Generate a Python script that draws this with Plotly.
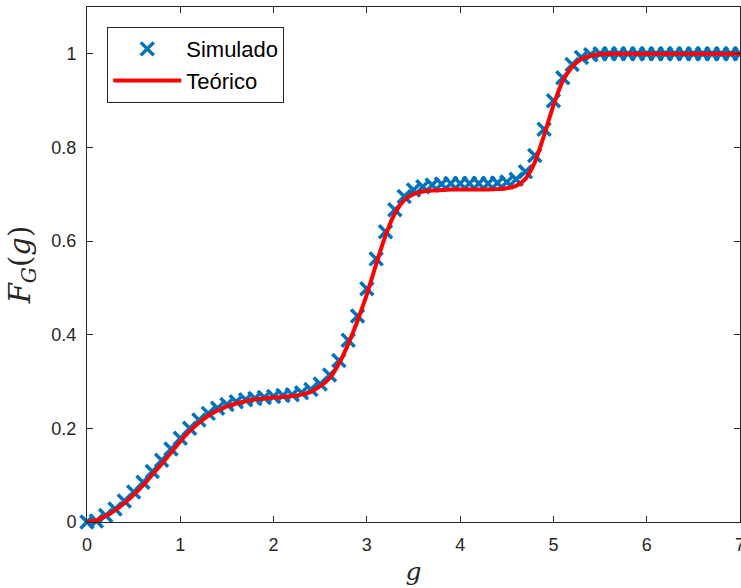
import plotly.graph_objects as go

# x grid (g) for both series
g_vals = [round(0.1 * i, 1) for i in range(71)]

# Simulated CDF values
sim_vals = [
    0.000, 0.002, 0.014, 0.028, 0.045, 0.064, 0.085, 0.108, 0.132, 0.156,
    0.179, 0.200, 0.218, 0.232, 0.243, 0.251, 0.257, 0.261, 0.264, 0.266,
    0.268, 0.270, 0.272, 0.276, 0.283, 0.295, 0.314, 0.345, 0.388, 0.440,
    0.498, 0.562, 0.620, 0.667, 0.695, 0.709, 0.716, 0.720, 0.722, 0.723,
    0.723, 0.723, 0.723, 0.723, 0.724, 0.726, 0.732, 0.748, 0.783, 0.839,
    0.900, 0.949, 0.977, 0.992, 0.998, 1.000, 1.000, 1.000, 1.000, 1.000,
    1.000, 1.000, 1.000, 1.000, 1.000, 1.000, 1.000, 1.000, 1.000, 1.000,
    1.000,
]

# Theoretical CDF values
theo_vals = [
    0.000, 0.004, 0.013, 0.025, 0.040, 0.058, 0.078, 0.101, 0.124, 0.148,
    0.172, 0.194, 0.212, 0.227, 0.238, 0.247, 0.253, 0.258, 0.262, 0.264,
    0.266, 0.267, 0.269, 0.272, 0.278, 0.290, 0.307, 0.338, 0.380, 0.430,
    0.486, 0.551, 0.612, 0.659, 0.687, 0.700, 0.706, 0.708, 0.709, 0.710,
    0.710, 0.710, 0.710, 0.710, 0.711, 0.713, 0.718, 0.733, 0.768, 0.826,
    0.890, 0.942, 0.972, 0.989, 0.996, 0.999, 1.000, 1.000, 1.000, 1.000,
    1.000, 1.000, 1.000, 1.000, 1.000, 1.000, 1.000, 1.000, 1.000, 1.000,
    1.000,
]

x_ticks = [0, 1, 2, 3, 4, 5, 6, 7]
y_ticks = [0, 0.2, 0.4, 0.6, 0.8, 1]
y_tick_text = ["0", "0.2", "0.4", "0.6", "0.8", "1"]

axis_color = "#262626"
font_family = "Liberation Sans, Arial, Helvetica, sans-serif"
serif_family = "DejaVu Serif, Liberation Serif, serif"

fig = go.Figure()
fig.add_trace(go.Scatter(
    x=g_vals, y=sim_vals, mode="markers", name="Simulado",
    marker=dict(symbol="x-thin-open", size=13, color="#0072BD",
                line=dict(color="#0072BD", width=3.5)),
    cliponaxis=False,
))
fig.add_trace(go.Scatter(
    x=g_vals, y=theo_vals, mode="lines", name="Teórico",
    line=dict(color="#FF0000", width=4, shape="spline", smoothing=0.6),
    cliponaxis=False,
))

axis_common = dict(
    showline=True, linecolor=axis_color, linewidth=1, mirror="allticks",
    ticks="inside", ticklen=6, tickwidth=1, tickcolor=axis_color,
    showgrid=False, zeroline=False, ticklabeloverflow="allow",
    automargin=False,
    tickfont=dict(family=font_family, size=18, color=axis_color),
)

fig.update_layout(
    width=741, height=588,
    margin=dict(l=87, r=1, t=7, b=66, autoexpand=False),
    paper_bgcolor="white", plot_bgcolor="white",
    xaxis=dict(range=[0, 7], tickvals=x_ticks, ticklabelstandoff=6, **axis_common,
               title=dict(text="<i>g</i>", standoff=8,
                          font=dict(family=serif_family, size=25, color=axis_color))),
    yaxis=dict(range=[0, 1.1], tickvals=y_ticks, ticktext=y_tick_text,
               ticklabelstandoff=6, **axis_common,
               title=dict(text="<i>F</i><sub><i>G</i></sub>(<i>g</i>)", standoff=12,
                          font=dict(family=serif_family, size=29, color=axis_color))),
    legend=dict(x=0.031, y=0.961, xanchor="left", yanchor="top",
                bgcolor="white", bordercolor=axis_color, borderwidth=1,
                font=dict(family=font_family, size=22, color="black"),
                itemwidth=68, tracegroupgap=0),
    showlegend=True,
)

fig.write_html("out.html")
